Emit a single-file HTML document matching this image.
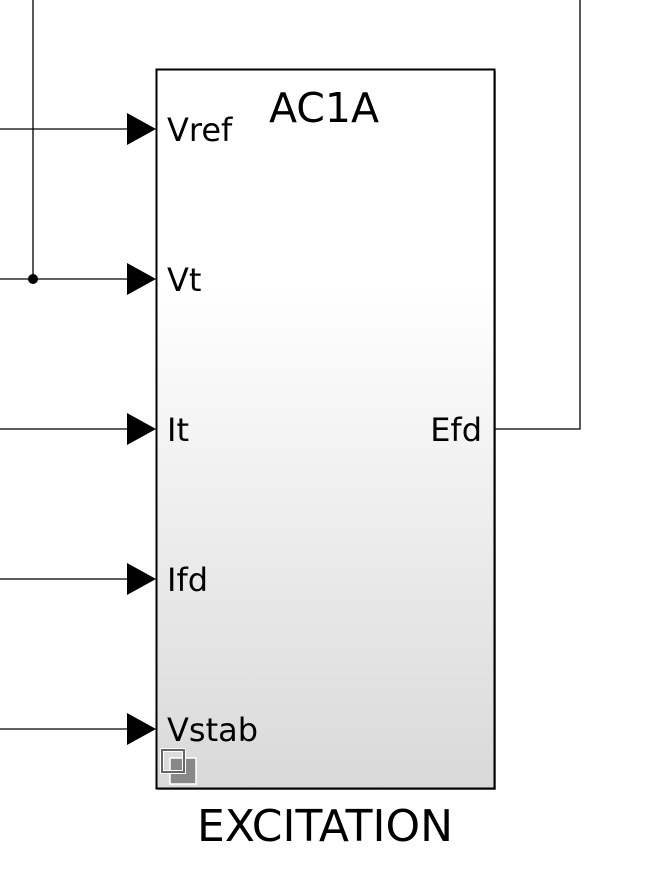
<!DOCTYPE html>
<html><head><style>
body{margin:0;background:#fff;width:655px;height:885px;overflow:hidden}
</style></head><body>
<svg width="655" height="885" xmlns="http://www.w3.org/2000/svg" font-family="DejaVu Sans, sans-serif">
<defs>
<linearGradient id="g" x1="0" y1="0" x2="0" y2="1">
<stop offset="0" stop-color="#ffffff"/>
<stop offset="0.3" stop-color="#ffffff"/>
<stop offset="1" stop-color="#d9d9d9"/>
</linearGradient>
</defs>
<rect x="158" y="71" width="338" height="719" fill="#999"/>
<rect x="156.5" y="69.5" width="338" height="719" fill="url(#g)" stroke="#000" stroke-width="2"/>
<g stroke="#000" stroke-width="1.3" fill="none">
<line x1="0" y1="129" x2="130" y2="129"/>
<line x1="0" y1="279" x2="130" y2="279"/>
<line x1="0" y1="429" x2="130" y2="429"/>
<line x1="0" y1="579" x2="130" y2="579"/>
<line x1="0" y1="729" x2="130" y2="729"/>
<line x1="33" y1="0" x2="33" y2="279"/>
<polyline points="495,429 580,429 580,0"/>
</g>
<circle cx="33" cy="279" r="5" fill="#000"/>
<g fill="#000">
<polygon points="127,113 156,129 127,145"/>
<polygon points="127,263 156,279 127,295"/>
<polygon points="127,413 156,429 127,445"/>
<polygon points="127,563 156,579 127,595"/>
<polygon points="127,713 156,729 127,745"/>
</g>
<g font-size="32" fill="#000">
<text x="167" y="141">Vref</text>
<text x="167" y="291">Vt</text>
<text x="167" y="441">It</text>
<text x="167" y="591">Ifd</text>
<text x="167" y="741">Vstab</text>
<text x="482" y="441" text-anchor="end">Efd</text>
</g>
<text x="324" y="122" font-size="41" text-anchor="middle">AC1A</text>
<text x="325" y="841" font-size="44" text-anchor="middle">EXCITATION</text>
<rect x="170" y="758" width="26" height="26" fill="#888" stroke="#fff" stroke-width="1.5"/>
<rect x="162" y="750" width="22" height="22" fill="none" stroke="#fff" stroke-width="4"/>
<rect x="162" y="750" width="22" height="22" fill="none" stroke="#666" stroke-width="2"/>
</svg>
</body></html>
